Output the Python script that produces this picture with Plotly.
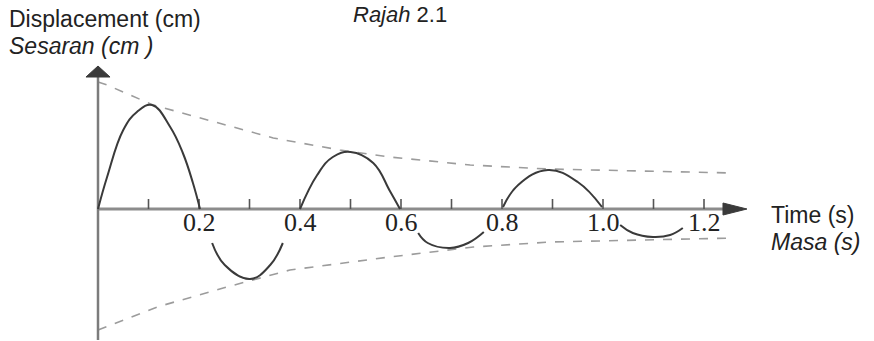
import plotly.graph_objects as go

# ---- data (time in s, displacement in arbitrary cm units) ----
t_lobe1 = [0.0, 0.018, 0.05, 0.077, 0.107, 0.143, 0.168, 0.188, 0.202]
d_lobe1 = [0.0, 3.2, 7.9, 9.7, 10.4, 8.2, 5.6, 2.6, 0.0]
t_lobe2 = [0.226, 0.251, 0.301, 0.341, 0.366]
d_lobe2 = [-3.4, -5.6, -7.0, -5.6, -3.4]
t_lobe3 = [0.4, 0.434, 0.465, 0.5, 0.545, 0.578, 0.598]
d_lobe3 = [0.0, 3.4, 5.2, 5.7, 4.6, 1.8, 0.0]
t_lobe4 = [0.634, 0.653, 0.697, 0.733, 0.764]
d_lobe4 = [-2.4, -3.4, -3.9, -3.4, -2.3]
t_lobe5 = [0.802, 0.832, 0.891, 0.950, 0.998]
d_lobe5 = [0.2, 2.4, 3.9, 2.7, 0.2]
t_lobe6 = [1.034, 1.059, 1.099, 1.133, 1.158]
d_lobe6 = [-1.6, -2.4, -2.8, -2.6, -1.9]

t_upper = [0.0, 0.018, 0.109, 0.216, 0.347, 0.479, 0.578, 0.737, 0.891, 1.257]
d_upper = [12.7, 12.4, 10.4, 8.9, 7.1, 5.9, 5.2, 4.4, 4.0, 3.6]
t_lower = [0.0, 0.117, 0.248, 0.38, 0.578, 0.743, 0.897, 1.261]
d_lower = [-12.1, -9.8, -7.9, -6.1, -4.8, -3.8, -3.3, -2.9]

tick_values = [0.1, 0.2, 0.3, 0.4, 0.5, 0.6, 0.7, 0.8, 0.9, 1.0, 1.1, 1.2]
label_values = [0.2, 0.4, 0.6, 0.8, 1.0, 1.2]
label_texts = ["0.2", "0.4", "0.6", "0.8", "1.0", "1.2"]

# ---- layout geometry ----
W, H = 874, 341
ORIG_X, ORIG_Y = 98, 209   # origin in figure pixels
PX_PER_S = 505.0
PX_PER_CM = 10.0

fig = go.Figure()

# envelopes
for tt, dd in [(t_upper, d_upper), (t_lower, d_lower)]:
    fig.add_trace(go.Scatter(x=tt, y=dd, mode="lines",
                             line=dict(color="#9c9c9c", width=1.6, dash="dash"),
                             hoverinfo="skip"))

# axes lines
X_END = 1.24
Y_TOP = 13.2
Y_BOT = -13.1
fig.add_trace(go.Scatter(x=[0, X_END], y=[0, 0], mode="lines",
                         line=dict(color="#8c8c8c", width=3), hoverinfo="skip"))
fig.add_trace(go.Scatter(x=[0, 0], y=[Y_BOT, Y_TOP], mode="lines",
                         line=dict(color="#7c7c7c", width=2.5), hoverinfo="skip"))

# tick marks
tx, ty = [], []
for v in tick_values:
    tx += [v, v, None]
    ty += [0, 1.0, None]
fig.add_trace(go.Scatter(x=tx, y=ty, mode="lines",
                         line=dict(color="#555555", width=1.6), hoverinfo="skip"))

# oscillation curve
cx, cy = [], []
for tt, dd in [(t_lobe1, d_lobe1), (t_lobe2, d_lobe2), (t_lobe3, d_lobe3),
               (t_lobe4, d_lobe4), (t_lobe5, d_lobe5), (t_lobe6, d_lobe6)]:
    cx += tt + [None]
    cy += dd + [None]
fig.add_trace(go.Scatter(x=cx, y=cy, mode="lines", connectgaps=False,
                         line=dict(color="#3a3a3a", width=2, shape="spline", smoothing=1.2),
                         hoverinfo="skip"))

# arrowheads
fig.add_trace(go.Scatter(x=[1.2376, 1.285, 1.2376, 1.2376], y=[0.6, 0, -0.6, 0.6],
                         mode="lines", fill="toself", fillcolor="#3a3a3a",
                         line=dict(color="#3a3a3a", width=1), hoverinfo="skip"))
fig.add_trace(go.Scatter(x=[-0.0238, 0, 0.0238, -0.0238], y=[13.2, 14.3, 13.2, 13.2],
                         mode="lines", fill="toself", fillcolor="#3a3a3a",
                         line=dict(color="#3a3a3a", width=1), hoverinfo="skip"))

annotations = []
for v, s in zip(label_values, label_texts):
    annotations.append(dict(x=v, y=-1.35, xref="x", yref="y", text=s, showarrow=False,
                            xanchor="center", yanchor="middle",
                            font=dict(family="Liberation Serif", size=26, color="#222222")))

sans = "Liberation Sans"
def txt(px, py, text, anchor="left", yanchor="middle", size=23):
    return dict(x=px / W, y=1 - py / H, xref="paper", yref="paper",
                text=text, showarrow=False, xanchor=anchor, yanchor=yanchor,
                font=dict(family=sans, size=size, color="#222222"))

annotations += [
    txt(7, 19, "Displacement (cm)"),
    txt(7, 46, "<i>Sesaran (cm )</i>"),
    txt(351, 0, "<i>Rajah</i> 2.1", yanchor="top", size=22),
    txt(769, 215, "Time (s)"),
    txt(769, 242, "<i>Masa (s)</i>"),
]

fig.update_layout(
    width=W, height=H,
    margin=dict(l=0, r=0, t=0, b=0),
    paper_bgcolor="white", plot_bgcolor="white",
    showlegend=False,
    xaxis=dict(range=[-ORIG_X / PX_PER_S, (W - ORIG_X) / PX_PER_S], visible=False, fixedrange=True),
    yaxis=dict(range=[(ORIG_Y - H) / PX_PER_CM, ORIG_Y / PX_PER_CM], visible=False, fixedrange=True),
    annotations=annotations,
)

fig.write_html("out.html", config={"displayModeBar": False, "staticPlot": True},
               post_script="document.body.style.margin='0';document.body.style.overflow='hidden';")
